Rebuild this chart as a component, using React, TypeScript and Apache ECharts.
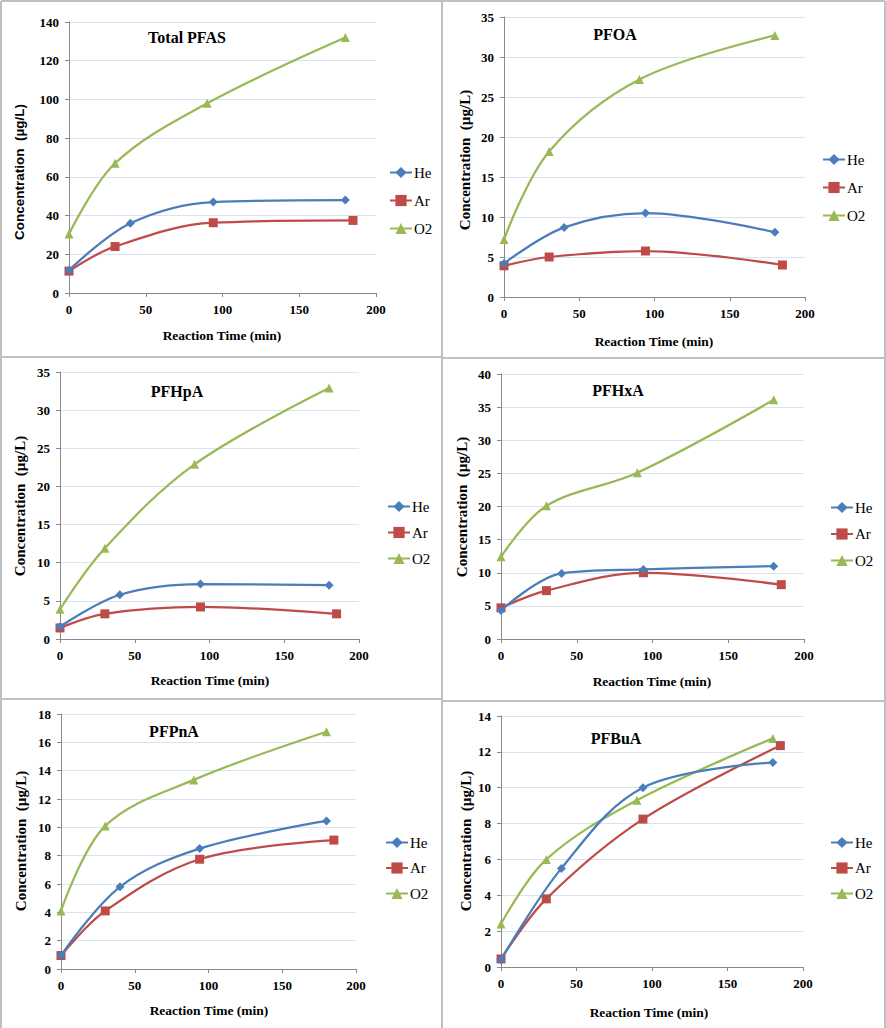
import React, { useEffect, useRef } from "react";
import * as echarts from "echarts";

// ---- data ----
const TIME_HE = [0, 40, 94, 180];
const TIME_AR = [0, 30, 94, 185];
const TIME_O2 = [0, 30, 90, 180];

const PANEL_TITLES = ["Total PFAS", "PFOA", "PFHpA", "PFHxA", "PFPnA", "PFBuA"];
const Y_MAX = [140, 35, 35, 40, 18, 14];
const Y_STEP = [20, 5, 5, 5, 2, 2];
const X_TICKS = [0, 50, 100, 150, 200];

const HE_TOTAL = [11.8, 36, 47, 48];
const AR_TOTAL = [11.3, 24, 36.3, 37.5];
const O2_TOTAL = [30.5, 67, 98, 132];

const HE_PFOA = [4.2, 8.7, 10.5, 8.1];
const AR_PFOA = [3.9, 5.0, 5.75, 4.0];
const O2_PFOA = [7.2, 18.2, 27.2, 32.7];

const HE_PFHPA = [1.6, 5.8, 7.2, 7.05];
const AR_PFHPA = [1.45, 3.3, 4.2, 3.3];
const O2_PFHPA = [3.9, 11.9, 22.9, 32.9];

const HE_PFHXA = [4.3, 9.9, 10.5, 11.0];
const AR_PFHXA = [4.7, 7.3, 10.0, 8.2];
const O2_PFHXA = [12.4, 20.1, 25.1, 36.1];

const HE_PFPNA = [0.95, 5.8, 8.5, 10.45];
const AR_PFPNA = [0.95, 4.1, 7.75, 9.1];
const O2_PFPNA = [4.1, 10.1, 13.35, 16.75];

const HE_PFBUA = [0.4, 5.5, 10.0, 11.4];
const AR_PFBUA = [0.45, 3.8, 8.25, 12.35];
const O2_PFBUA = [2.4, 6.0, 9.3, 12.75];

const HE_ALL = [HE_TOTAL, HE_PFOA, HE_PFHPA, HE_PFHXA, HE_PFPNA, HE_PFBUA];
const AR_ALL = [AR_TOTAL, AR_PFOA, AR_PFHPA, AR_PFHXA, AR_PFPNA, AR_PFBUA];
const O2_ALL = [O2_TOTAL, O2_PFOA, O2_PFHPA, O2_PFHXA, O2_PFPNA, O2_PFBUA];

const SERIES_NAMES = ["He", "Ar", "O2"];

// ---- layout / style ----
const W = 886;
const H = 1028;
const GRIDS = [
  { left: 69, top: 22, width: 307, height: 271 },
  { left: 504, top: 17, width: 301, height: 280 },
  { left: 60, top: 372, width: 299, height: 267 },
  { left: 501, top: 374, width: 303, height: 265 },
  { left: 61, top: 714, width: 295, height: 255 },
  { left: 501, top: 716, width: 302, height: 251 },
];
const TITLE_POS = [
  [187, 37], [615, 34], [177, 391], [618, 390], [174, 731], [616, 738],
];
const YTITLE_POS = [
  [19, 172], [465, 160], [20, 506], [462, 507], [21, 841], [466, 841],
];
const XTITLE_POS = [
  [222, 335], [654, 341], [210, 680], [652, 681], [209, 1010], [649, 1012],
];
const LEGEND_POS = [
  { left: 389, top: 165, gap: 13 },
  { left: 822, top: 152, gap: 13 },
  { left: 387, top: 499, gap: 11 },
  { left: 830, top: 500, gap: 11.5 },
  { left: 385, top: 835, gap: 10.5 },
  { left: 830, top: 835, gap: 10.5 },
];
const COLORS = ["#4A7EBB", "#BE4B48", "#98B954"];
const SYMBOLS = ["diamond", "rect", "triangle"];
const SYMBOL_SIZES = [9, 9, 9];
const SERIF = "Liberation Serif";
const SANS = "Liberation Sans";

function buildOption() {
  const grid: any[] = [];
  const xAxis: any[] = [];
  const yAxis: any[] = [];
  const series: any[] = [];
  const legend: any[] = [];
  const graphic: any[] = [];

  const textCenter = (x: number, y: number, text: string, size: number, family: string, rotation = 0) => ({
    type: "text",
    x,
    y,
    rotation,
    silent: true,
    style: {
      text,
      fill: "#000",
      fontSize: size,
      fontWeight: "bold",
      fontFamily: family,
      textAlign: "center",
      textVerticalAlign: "middle",
      align: "center",
      verticalAlign: "middle",
    },
  });

  for (let i = 0; i < 6; i++) {
    grid.push({ ...GRIDS[i], containLabel: false });
    xAxis.push({
      type: "value",
      gridIndex: i,
      min: X_TICKS[0],
      max: X_TICKS[X_TICKS.length - 1],
      interval: X_TICKS[1] - X_TICKS[0],
      axisLine: { show: true, lineStyle: { color: "#8a8a8a", width: 1 } },
      axisTick: { show: true, length: 4, lineStyle: { color: "#8a8a8a" } },
      splitLine: { show: false },
      axisLabel: {
        color: "#000",
        fontFamily: SERIF,
        fontWeight: "bold",
        fontSize: 13,
        margin: 10,
      },
    });
    yAxis.push({
      type: "value",
      gridIndex: i,
      min: 0,
      max: Y_MAX[i],
      interval: Y_STEP[i],
      axisLine: { show: true, lineStyle: { color: "#8a8a8a", width: 1 } },
      axisTick: { show: true, length: 4, lineStyle: { color: "#8a8a8a" } },
      splitLine: { show: true, lineStyle: { color: "#D9E2EE", width: 1 } },
      axisLabel: {
        color: "#000",
        fontFamily: SERIF,
        fontWeight: "bold",
        fontSize: 13,
        margin: 10,
      },
    });
    const times = [TIME_HE, TIME_AR, TIME_O2];
    const vals = [HE_ALL[i], AR_ALL[i], O2_ALL[i]];
    for (let s = 0; s < 3; s++) {
      series.push({
        type: "line",
        name: SERIES_NAMES[s],
        xAxisIndex: i,
        yAxisIndex: i,
        data: times[s].map((t, k) => [t, vals[s][k]]),
        smooth: 0.35,
        symbol: SYMBOLS[s],
        symbolSize: SYMBOL_SIZES[s],
        showSymbol: true,
        color: COLORS[s],
        lineStyle: { color: COLORS[s], width: 2.25 },
        itemStyle: { color: COLORS[s] },
        z: 3 + (2 - s),
      });
    }
    legend.push({
      orient: "vertical",
      left: LEGEND_POS[i].left,
      top: LEGEND_POS[i].top,
      itemGap: LEGEND_POS[i].gap,
      itemWidth: 22,
      itemHeight: 14,
      padding: 0,
      data: SERIES_NAMES,
      textStyle: {
        fontFamily: SERIF,
        fontSize: 15,
        color: "#000",
        lineHeight: 14,
        padding: [0, 0, 0, -3],
      },
      selectedMode: false,
    });
    graphic.push(textCenter(TITLE_POS[i][0], TITLE_POS[i][1], PANEL_TITLES[i], 16, SERIF));
    graphic.push(textCenter(XTITLE_POS[i][0], XTITLE_POS[i][1], "Reaction Time (min)", 13.5, SERIF));
    graphic.push(
      textCenter(
        YTITLE_POS[i][0],
        YTITLE_POS[i][1],
        "Concentration  (\u00b5g/L)",
        i === 0 ? 13.5 : 15,
        i === 0 ? SANS : SERIF,
        Math.PI / 2
      )
    );
  }

  // panel borders
  const border = { stroke: "#BFBFBF", lineWidth: 2 };
  const lines = [
    [1, 1, W - 1, 1],
    [1, 1, 1, H],
    [W - 1, 1, W - 1, H],
    [442, 1, 442, H],
    [1, 357, 442, 357],
    [1, 699, 442, 699],
    [442, 358, W - 1, 358],
    [442, 701, W - 1, 701],
  ];
  for (const l of lines) {
    graphic.push({
      type: "line",
      shape: { x1: l[0], y1: l[1], x2: l[2], y2: l[3] },
      style: border,
      silent: true,
    });
  }

  return {
    animation: false,
    backgroundColor: "#ffffff",
    textStyle: { fontFamily: SERIF },
    grid,
    xAxis,
    yAxis,
    series,
    legend,
    graphic,
  };
}

export default function App() {
  const ref = useRef<HTMLDivElement>(null);
  useEffect(() => {
    if (!ref.current) return;
    const chart = echarts.init(ref.current, null, { renderer: "svg", width: W, height: H });
    chart.setOption(buildOption() as any);
    return () => chart.dispose();
  }, []);
  return (
    <div
      ref={ref}
      style={{ position: "absolute", left: 0, top: 0, width: W, height: H, background: "#fff" }}
    />
  );
}
